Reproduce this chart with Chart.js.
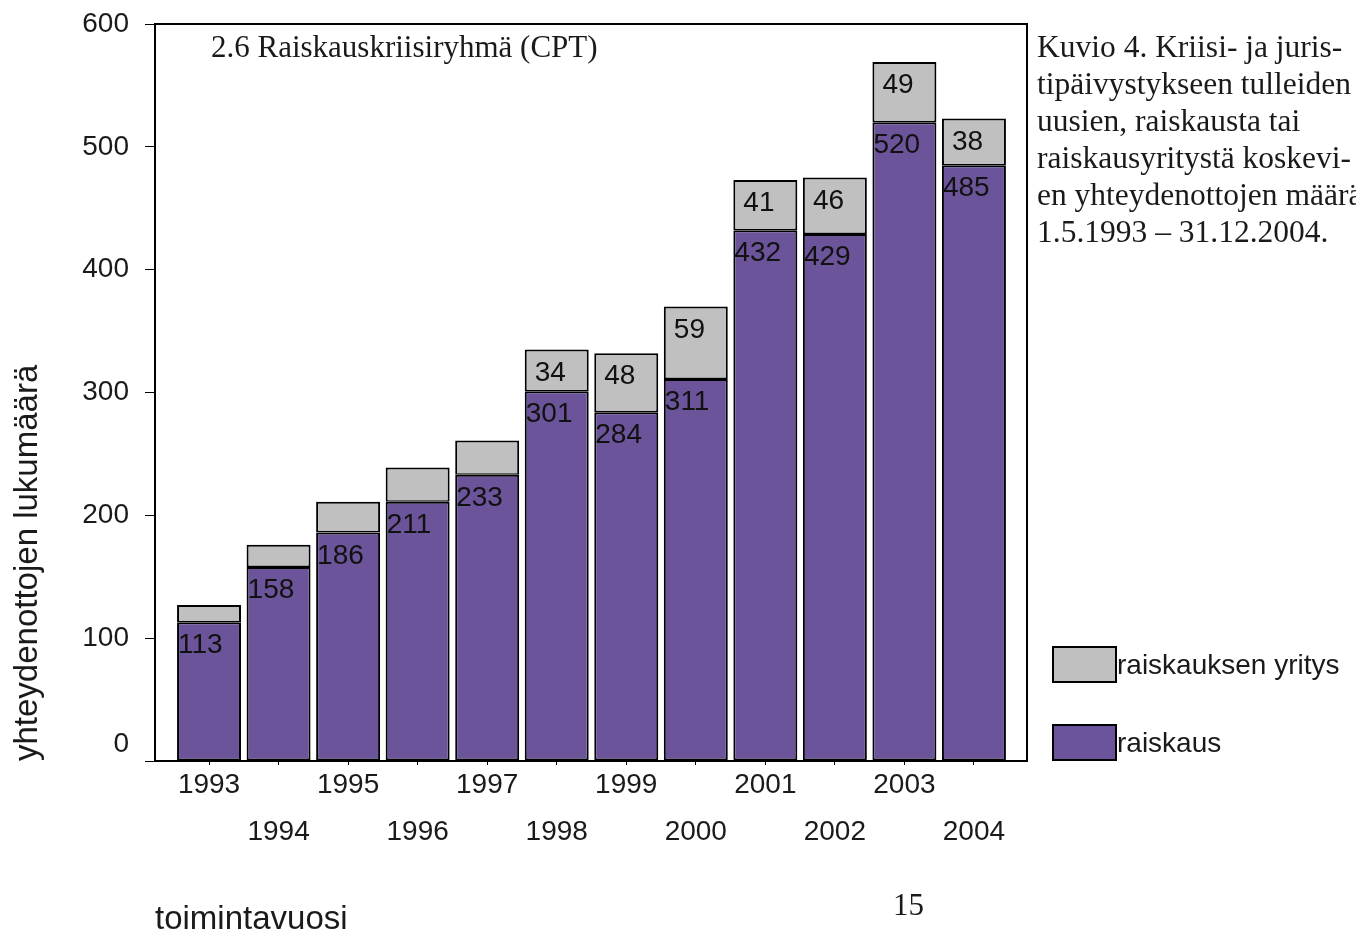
<!DOCTYPE html>
<html>
<head>
<meta charset="utf-8">
<script src="https://cdn.jsdelivr.net/npm/chart.js@4.4.1/dist/chart.umd.min.js"></script>
<style>
html,body{margin:0;padding:0;background:#fff;overflow:hidden;}
#wrap{position:relative;width:1356px;height:937px;overflow:hidden;background:#fff;}
#c{position:absolute;left:0;top:0;}
.serif{position:absolute;white-space:nowrap;font-family:"Liberation Serif","Times New Roman",serif;font-size:31px;line-height:37px;color:#1a1a1a;}
#panelTitle{left:211px;top:28px;}
#caption{left:1037px;top:28px;font-size:31.5px;}
#pageNo{left:893px;top:886px;}
#legend{position:absolute;left:1052px;top:646px;}
.li{position:absolute;left:0;height:37px;white-space:nowrap;}
.box{position:absolute;left:0;top:0;width:65px;height:37px;box-sizing:border-box;border:2px solid #000;}
.lt{position:absolute;left:65px;top:0;line-height:37px;font-family:"Liberation Sans",Arial,sans-serif;font-size:28px;color:#1a1a1a;}
</style>
</head>
<body>
<div id="wrap">
  <canvas id="c" width="1356" height="937"></canvas>
  <div id="panelTitle" class="serif">2.6 Raiskauskriisiryhmä (CPT)</div>
  <div id="caption" class="serif">Kuvio 4. Kriisi- ja juris-<br>tipäivystykseen tulleiden<br>uusien, raiskausta tai<br>raiskausyritystä koskevi-<br>en yhteydenottojen määrä<br>1.5.1993 – 31.12.2004.</div>
  <div id="pageNo" class="serif">15</div>
  <div id="legend"></div>
</div>
<script>
// ---- data ----
const years = [1993, 1994, 1995, 1996, 1997, 1998, 1999, 2000, 2001, 2002, 2003, 2004];
const raiskaus = [113, 158, 186, 211, 233, 301, 284, 311, 432, 429, 520, 485];
const raiskauksenYritys = [14, 18, 25, 28, 28, 34, 48, 59, 41, 46, 49, 38];
const yTicks = [0, 100, 200, 300, 400, 500, 600];
const seriesLabels = ['raiskaus', 'raiskauksen yritys'];
const seriesColors = ['#6b5499', '#c0c0c0'];
const yAxisTitle = 'yhteydenottojen lukumäärä';
const xAxisTitle = 'toimintavuosi';

const SANS = '"Liberation Sans", Arial, sans-serif';
Chart.defaults.font.family = SANS;
Chart.defaults.color = '#1a1a1a';

const frame = {
  id: 'frame',
  afterDraw(chart) {
    const {ctx, chartArea: a} = chart;
    ctx.save();
    ctx.strokeStyle = '#000';
    ctx.lineWidth = 2;
    ctx.beginPath();
    ctx.moveTo(a.left, a.top);
    ctx.lineTo(a.right, a.top);
    ctx.lineTo(a.right, a.bottom);
    ctx.stroke();
    ctx.restore();
  }
};

const valueLabels = {
  id: 'valueLabels',
  afterDatasetsDraw(chart) {
    const ctx = chart.ctx;
    ctx.save();
    ctx.font = '28px ' + SANS;
    ctx.fillStyle = '#111';
    ctx.textAlign = 'left';
    ctx.textBaseline = 'alphabetic';
    chart.data.datasets.forEach((ds, di) => {
      const meta = chart.getDatasetMeta(di);
      meta.data.forEach((el, i) => {
        const v = ds.data[i].y;
        const isGray = di === 1;
        if (isGray && v < 30) return;
        const left = el.x - el.width / 2;
        ctx.fillText(String(v), left + (isGray ? 10 : 1), el.y + 31);
      });
    });
    ctx.restore();
  }
};

const chart = new Chart(document.getElementById('c'), {
  type: 'bar',
  data: {
    datasets: [
      {
        label: seriesLabels[0],
        data: years.map((y, i) => ({x: y, y: raiskaus[i]})),
        backgroundColor: seriesColors[0],
        borderColor: '#000',
        borderWidth: 2,
        borderSkipped: false,
        stack: 's'
      },
      {
        label: seriesLabels[1],
        data: years.map((y, i) => ({x: y, y: raiskauksenYritys[i]})),
        backgroundColor: seriesColors[1],
        borderColor: '#000',
        borderWidth: {top: 2, left: 2, right: 2, bottom: 1.5},
        borderSkipped: false,
        stack: 's'
      }
    ]
  },
  options: {
    responsive: false,
    animation: false,
    events: [],
    layout: {padding: {left: 8, right: 329, top: 24, bottom: 0}},
    categoryPercentage: 0.92,
    barPercentage: 1,
    plugins: {legend: {display: false}, tooltip: {enabled: false}},
    scales: {
      x: {
        type: 'linear',
        offset: false,
        min: years[0] - 0.777,
        max: years[years.length - 1] + 0.763,
        stacked: true,
        afterBuildTicks: (scale) => { scale.ticks = years.map(v => ({value: v})); },
        afterFit: (scale) => { scale.height = 176; scale.paddingLeft = 0; scale.paddingRight = 0; },
        ticks: {
          autoSkip: false,
          maxRotation: 0,
          padding: -3,
          color: '#1a1a1a',
          font: {size: 28, lineHeight: 1.68},
          callback: (v) => (years.indexOf(v) % 2 === 0) ? String(v) : ['', String(v)]
        },
        grid: {display: true, offset: false, drawOnChartArea: false, drawTicks: true, tickLength: 4, color: '#000', lineWidth: 1},
        border: {display: true, color: '#000', width: 2},
        title: {display: true, text: xAxisTitle, align: 'start', color: '#1a1a1a',
                font: {size: 33, lineHeight: 1}, padding: {top: 0, bottom: 1}}
      },
      y: {
        stacked: true,
        min: yTicks[0],
        max: yTicks[yTicks.length - 1],
        afterBuildTicks: (scale) => { scale.ticks = yTicks.map(v => ({value: v})); },
        afterFit: (scale) => { scale.width = 147; scale.paddingTop = 0; scale.paddingBottom = 0; },
        ticks: {
          padding: 16,
          color: '#1a1a1a',
          font: {size: 28},
          callback: (v) => v === 0 ? ['0', ''] : String(v)
        },
        grid: {display: true, drawOnChartArea: false, drawTicks: true, tickLength: 10, color: '#000', lineWidth: 1},
        border: {display: true, color: '#000', width: 2},
        title: {display: true, text: yAxisTitle, align: 'start', color: '#1a1a1a',
                font: {size: 33, lineHeight: 1.2}, padding: {top: 0, bottom: 0}}
      }
    }
  },
  plugins: [frame, valueLabels]
});

// legend built from the chart's datasets (top item = top of stack)
const legend = document.getElementById('legend');
const legendTops = [78, 0];
chart.data.datasets.forEach((ds, i) => {
  const item = document.createElement('div');
  item.className = 'li';
  item.style.top = legendTops[i] + 'px';
  const box = document.createElement('div');
  box.className = 'box';
  box.style.background = ds.backgroundColor;
  const t = document.createElement('div');
  t.className = 'lt';
  t.textContent = ds.label;
  item.appendChild(box);
  item.appendChild(t);
  legend.appendChild(item);
});
</script>
</body>
</html>
